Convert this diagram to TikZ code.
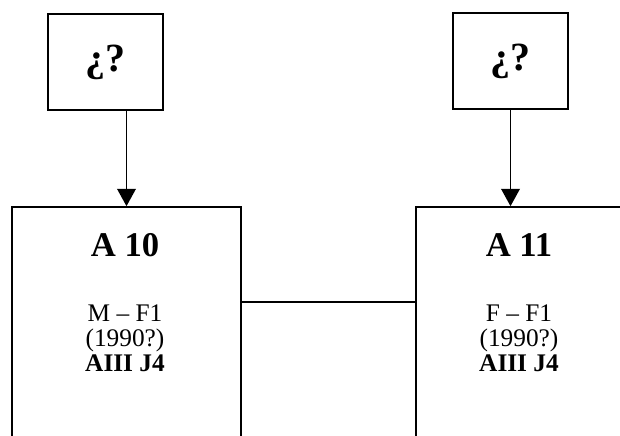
\documentclass[tikz,border=0pt]{standalone}
\usepackage{fontspec}
\setmainfont{Liberation Serif}
\usetikzlibrary{arrows.meta}
\tikzset{
  box/.style={draw=black, line width=1.25pt, rectangle, inner sep=0pt},
  qbox/.style={box, minimum width=86.25pt, minimum height=72pt, font=\fontsize{30}{34}\selectfont\bfseries},
  bigbox/.style={box, minimum height=197.25pt},
  title/.style={inner sep=0pt, font=\fontsize{26}{30}\selectfont\bfseries},
  info/.style={inner sep=0pt, align=center, font=\fontsize{19}{18.75}\selectfont},
  arr/.style={line width=1.1pt, -{Triangle[length=13pt,width=14pt]}},
  link/.style={line width=1.1pt}
}
\begin{document}
\begin{tikzpicture}[x=0.75pt,y=-0.75pt]
\useasboundingbox (0,0) rectangle (620,435);
\clip (0,0) rectangle (620,435);
\node[qbox] (q1) at (105.5,62) {¿?};
\node[qbox] (q2) at (510.5,61) {¿?};
\node[bigbox, minimum width=171.75pt] (L) at (126.5,338.5) {};
\node[bigbox, minimum width=168pt] (R) at (528,338.5) {};
\node[title] (t1) at (125,245) {A 10};
\node[title] (t2) at (519,245) {A 11};
\node[info] (i1) at (125,338) {M -- F1\\(1990?)\\\textbf{AIII J4}};
\node[info] (i2) at (519,338) {F -- F1\\(1990?)\\\textbf{AIII J4}};
\draw[arr] (q1.south -| L.north) -- (L.north);
\draw[arr] (q2.south) -- (q2.south |- R.north);
\draw[link] ([yshift=-72pt]L.north east) -- ([yshift=-72pt]R.north west);
\end{tikzpicture}
\end{document}
